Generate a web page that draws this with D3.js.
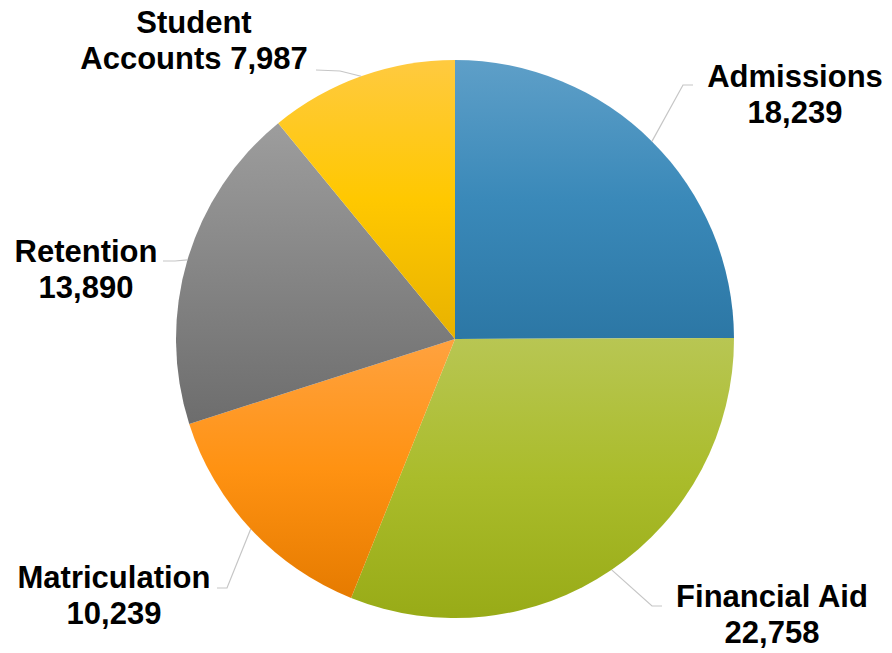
<!DOCTYPE html>
<html>
<head>
<meta charset="utf-8">
<script src="https://cdn.jsdelivr.net/npm/d3@7"></script>
<style>
  body { margin: 0; background: #fff; }
  text { font-family: "Liberation Sans", Arial, sans-serif; font-weight: bold; fill: #000; }
</style>
</head>
<body>
<script>
// data
const categories = ['Admissions', 'Financial Aid', 'Matriculation', 'Retention', 'Student Accounts'];
const values = [18239, 22758, 10239, 13890, 7987];
// label text lines (Student Accounts wraps differently in the original)
const label_lines = [
    ['Admissions', '18,239'],
    ['Financial Aid', '22,758'],
    ['Matriculation', '10,239'],
    ['Retention', '13,890'],
    ['Student', 'Accounts 7,987']
];

// gradient stops per slice: light, base, dark
const colors = [
    ['#5e9fc8', '#3a89b9', '#2c77a5'],
    ['#b8c653', '#aabc2b', '#98ab17'],
    ['#ffa23f', '#ff9212', '#e67b00'],
    ['#9d9d9d', '#858585', '#6d6d6d'],
    ['#ffca40', '#ffc800', '#e8b200']
];

// label layout: center x, first baseline y, leader elbow and end
const label_layout = [
    {x: 795, y: 87, elbow: [683, 85], end: [693, 85]},
    {x: 772, y: 607, elbow: [652, 606], end: [662, 606]},
    {x: 114, y: 588, elbow: [227, 588], end: [217, 588]},
    {x: 86, y: 262, elbow: [175, 261], end: [163, 261]},
    {x: 194, y: 33, elbow: [340, 71], end: [316, 70]}
];

const width = 892, height = 653;
const cx = 455, cy = 339, radius = 279;

const svg = d3.select('body').append('svg')
    .attr('width', width)
    .attr('height', height);

const defs = svg.append('defs');
colors.forEach(function (c, i) {
    const g = defs.append('linearGradient')
        .attr('id', 'grad' + i)
        .attr('x1', 0).attr('y1', 0).attr('x2', 0).attr('y2', 1);
    g.append('stop').attr('offset', '0%').attr('stop-color', c[0]);
    g.append('stop').attr('offset', '50%').attr('stop-color', c[1]);
    g.append('stop').attr('offset', '100%').attr('stop-color', c[2]);
});

const data = categories.map(function (name, i) {
    return {name: name, value: values[i], idx: i};
});

const pie = d3.pie()
    .sort(null)
    .value(function (d) { return d.value; });

const arc = d3.arc().innerRadius(0).outerRadius(radius);
const edge = d3.arc().innerRadius(radius).outerRadius(radius);

const chart = svg.append('g')
    .attr('transform', 'translate(' + cx + ',' + cy + ')');

const arcs = pie(data);

chart.selectAll('path.slice')
    .data(arcs)
    .enter()
    .append('path')
    .attr('class', 'slice')
    .attr('d', arc)
    .attr('fill', function (d) { return 'url(#grad' + d.data.idx + ')'; });

// leader lines
svg.selectAll('polyline')
    .data(arcs)
    .enter()
    .append('polyline')
    .attr('points', function (d) {
        const p = edge.centroid(d);
        const l = label_layout[d.data.idx];
        return [[p[0] + cx, p[1] + cy], l.elbow, l.end].map(function (q) { return q.join(','); }).join(' ');
    })
    .attr('fill', 'none')
    .attr('stroke', '#c6c6c6')
    .attr('stroke-width', 1.2);

// labels
const labels = svg.selectAll('text.label')
    .data(arcs)
    .enter()
    .append('text')
    .attr('class', 'label')
    .attr('text-anchor', 'middle')
    .attr('font-size', '31px');

labels.each(function (d) {
    const l = label_layout[d.data.idx];
    d3.select(this).selectAll('tspan')
        .data(label_lines[d.data.idx])
        .enter()
        .append('tspan')
        .attr('x', l.x)
        .attr('y', function (t, j) { return l.y + j * 36; })
        .text(function (t) { return t; });
});
</script>
</body>
</html>
